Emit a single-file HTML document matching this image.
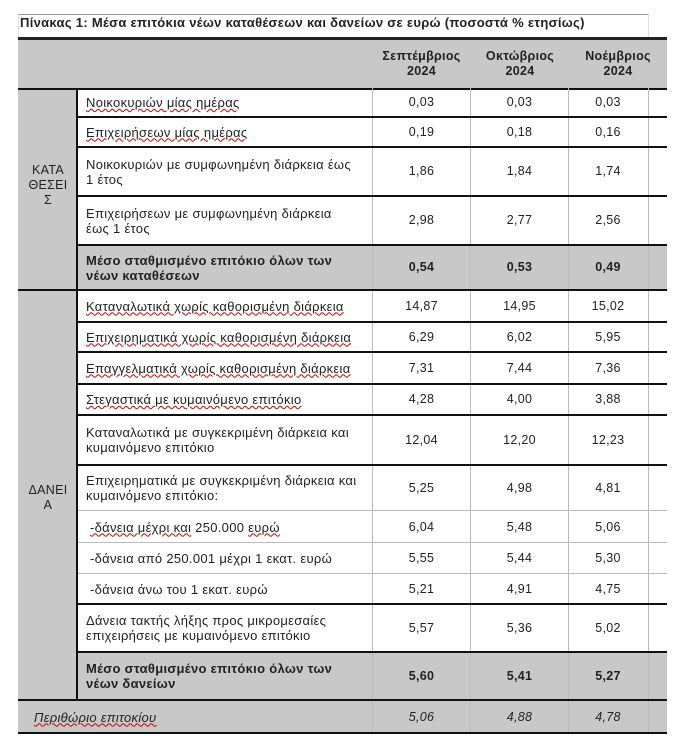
<!DOCTYPE html>
<html><head><meta charset="utf-8"><style>
body{margin:0;width:700px;height:739px;background:#fff;position:relative;overflow:hidden;font-family:"Liberation Sans","DejaVu Sans",sans-serif;font-size:12px;color:#222}
div{position:absolute;box-sizing:border-box}
.t{display:flex;align-items:center;line-height:15px}
.lb{font-size:13px;letter-spacing:0.3px}
.n{justify-content:center;font-size:12.5px;letter-spacing:0.3px}
.u{text-decoration:underline;text-decoration-color:#c00;text-decoration-style:wavy;text-decoration-thickness:1px}
.g{background:#c8c8c8}
.b{font-weight:bold}
.hl{height:2px;background:#111;left:78px;width:589px}
.tl{height:1px;background:#bbb;left:78px;width:589px}
.vl{width:1px;background:#bbb}
</style></head><body>
<div style="left:18px;top:14px;width:631px;height:24px;border-top:1px solid #99a;border-left:1px solid #ddd;border-right:1px solid #ddd"></div>
<div class="b" style="left:20px;top:15px;font-size:13px;letter-spacing:0.3px">Πίνακας 1: Μέσα επιτόκια νέων καταθέσεων και δανείων σε ευρώ (ποσοστά % ετησίως)</div>
<div class="g" style="left:18px;top:37px;width:649px;height:51px;border-top:3px solid #222"></div>
<div class="t n b" style="left:372px;top:40px;width:99px;height:48px;text-align:center">Σεπτέμβριος<br>2024</div>
<div class="t n b" style="left:471px;top:40px;width:98px;height:48px;text-align:center">Οκτώβριος<br>2024</div>
<div class="t n b" style="left:569px;top:40px;width:98px;height:48px;text-align:center">Νοέμβριος<br>2024</div>
<div class="g" style="left:18px;top:88px;width:60px;height:612px"></div>
<div style="left:76px;top:88px;width:2px;height:612px;background:#111"></div>
<div style="left:18px;top:88px;width:649px;height:2px;background:#111"></div>
<div style="left:18px;top:289px;width:60px;height:2px;background:#111"></div>
<div class="t n lb" style="left:18px;top:160px;width:60px;height:50px;text-align:center">ΚΑΤΑ<br>ΘΕΣΕΙ<br>Σ</div>
<div class="t n lb" style="left:18px;top:480px;width:60px;height:36px;text-align:center">ΔΑΝΕΙ<br>Α</div>
<div class="g" style="left:78px;top:245px;width:589px;height:45px"></div>
<div class="g" style="left:78px;top:652px;width:589px;height:48px"></div>
<div class="g" style="left:18px;top:700px;width:649px;height:33px"></div>
<div class="vl" style="left:372px;top:88px;height:645px"></div>
<div class="vl" style="left:470px;top:88px;height:645px"></div>
<div class="vl" style="left:568px;top:88px;height:645px"></div>
<div class="vl" style="left:648px;top:88px;height:645px"></div>
<div class="hl" style="top:116px"></div>
<div class="hl" style="top:146px"></div>
<div class="hl" style="top:195px"></div>
<div class="hl" style="top:244px"></div>
<div class="hl" style="top:289px;left:78px"></div>
<div class="hl" style="top:321px"></div>
<div class="hl" style="top:351px"></div>
<div class="hl" style="top:383px"></div>
<div class="hl" style="top:414px"></div>
<div class="hl" style="top:464px"></div>
<div class="tl" style="top:510px"></div>
<div class="tl" style="top:542px"></div>
<div class="tl" style="top:573px"></div>
<div class="hl" style="top:603px"></div>
<div class="hl" style="top:651px"></div>
<div class="hl" style="top:699px;left:18px;width:649px"></div>
<div class="hl" style="top:732px;left:18px;width:649px"></div>
<div class="t u lb" style="left:86px;top:88px;height:29px">Νοικοκυριών μίας ημέρας</div>
<div class="t u lb" style="left:86px;top:117px;height:30px">Επιχειρήσεων μίας ημέρας</div>
<div class="t lb" style="left:86px;top:147px;height:49px;width:272px">Νοικοκυριών με συμφωνημένη διάρκεια έως 1 έτος</div>
<div class="t lb" style="left:86px;top:196px;height:49px;width:262px">Επιχειρήσεων με συμφωνημένη διάρκεια έως 1 έτος</div>
<div class="t b lb" style="left:86px;top:245px;height:45px;width:270px">Μέσο σταθμισμένο επιτόκιο όλων των νέων καταθέσεων</div>
<div class="t u lb" style="left:86px;top:290px;height:32px">Καταναλωτικά χωρίς καθορισμένη διάρκεια</div>
<div class="t u lb" style="left:86px;top:322px;height:30px">Επιχειρηματικά χωρίς καθορισμένη διάρκεια</div>
<div class="t u lb" style="left:86px;top:352px;height:32px">Επαγγελματικά χωρίς καθορισμένη διάρκεια</div>
<div class="t u lb" style="left:86px;top:384px;height:31px">Στεγαστικά με κυμαινόμενο επιτόκιο</div>
<div class="t lb" style="left:86px;top:415px;height:50px;width:284px">Καταναλωτικά με συγκεκριμένη διάρκεια και κυμαινόμενο επιτόκιο</div>
<div class="t lb" style="left:86px;top:465px;height:46px;width:284px">Επιχειρηματικά με συγκεκριμένη διάρκεια και κυμαινόμενο επιτόκιο:</div>
<div class="t lb" style="left:90px;top:511px;height:32px"><span class="u">-δάνεια μέχρι και</span>&nbsp;250.000&nbsp;<span class="u">ευρώ</span></div>
<div class="t lb" style="left:90px;top:543px;height:31px">-δάνεια από 250.001 μέχρι 1 εκατ. ευρώ</div>
<div class="t lb" style="left:90px;top:574px;height:30px">-δάνεια άνω του 1 εκατ. ευρώ</div>
<div class="t lb" style="left:86px;top:604px;height:48px;width:270px">Δάνεια τακτής λήξης προς μικρομεσαίες επιχειρήσεις με κυμαινόμενο επιτόκιο</div>
<div class="t b lb" style="left:86px;top:652px;height:48px;width:270px">Μέσο σταθμισμένο επιτόκιο όλων των νέων δανείων</div>
<div class="t u lb" style="left:34px;top:701px;height:32px;font-style:italic">Περιθώριο επιτοκίου</div>
<div class="t n" style="left:372px;top:88px;width:99px;height:29px">0,03</div><div class="t n" style="left:470px;top:88px;width:99px;height:29px">0,03</div><div class="t n" style="left:568px;top:88px;width:80px;height:29px">0,03</div>
<div class="t n" style="left:372px;top:117px;width:99px;height:30px">0,19</div><div class="t n" style="left:470px;top:117px;width:99px;height:30px">0,18</div><div class="t n" style="left:568px;top:117px;width:80px;height:30px">0,16</div>
<div class="t n" style="left:372px;top:147px;width:99px;height:49px">1,86</div><div class="t n" style="left:470px;top:147px;width:99px;height:49px">1,84</div><div class="t n" style="left:568px;top:147px;width:80px;height:49px">1,74</div>
<div class="t n" style="left:372px;top:196px;width:99px;height:49px">2,98</div><div class="t n" style="left:470px;top:196px;width:99px;height:49px">2,77</div><div class="t n" style="left:568px;top:196px;width:80px;height:49px">2,56</div>
<div class="t n b" style="left:372px;top:245px;width:99px;height:45px">0,54</div><div class="t n b" style="left:470px;top:245px;width:99px;height:45px">0,53</div><div class="t n b" style="left:568px;top:245px;width:80px;height:45px">0,49</div>
<div class="t n" style="left:372px;top:290px;width:99px;height:32px">14,87</div><div class="t n" style="left:470px;top:290px;width:99px;height:32px">14,95</div><div class="t n" style="left:568px;top:290px;width:80px;height:32px">15,02</div>
<div class="t n" style="left:372px;top:322px;width:99px;height:30px">6,29</div><div class="t n" style="left:470px;top:322px;width:99px;height:30px">6,02</div><div class="t n" style="left:568px;top:322px;width:80px;height:30px">5,95</div>
<div class="t n" style="left:372px;top:352px;width:99px;height:32px">7,31</div><div class="t n" style="left:470px;top:352px;width:99px;height:32px">7,44</div><div class="t n" style="left:568px;top:352px;width:80px;height:32px">7,36</div>
<div class="t n" style="left:372px;top:384px;width:99px;height:31px">4,28</div><div class="t n" style="left:470px;top:384px;width:99px;height:31px">4,00</div><div class="t n" style="left:568px;top:384px;width:80px;height:31px">3,88</div>
<div class="t n" style="left:372px;top:415px;width:99px;height:50px">12,04</div><div class="t n" style="left:470px;top:415px;width:99px;height:50px">12,20</div><div class="t n" style="left:568px;top:415px;width:80px;height:50px">12,23</div>
<div class="t n" style="left:372px;top:465px;width:99px;height:46px">5,25</div><div class="t n" style="left:470px;top:465px;width:99px;height:46px">4,98</div><div class="t n" style="left:568px;top:465px;width:80px;height:46px">4,81</div>
<div class="t n" style="left:372px;top:511px;width:99px;height:32px">6,04</div><div class="t n" style="left:470px;top:511px;width:99px;height:32px">5,48</div><div class="t n" style="left:568px;top:511px;width:80px;height:32px">5,06</div>
<div class="t n" style="left:372px;top:543px;width:99px;height:31px">5,55</div><div class="t n" style="left:470px;top:543px;width:99px;height:31px">5,44</div><div class="t n" style="left:568px;top:543px;width:80px;height:31px">5,30</div>
<div class="t n" style="left:372px;top:574px;width:99px;height:30px">5,21</div><div class="t n" style="left:470px;top:574px;width:99px;height:30px">4,91</div><div class="t n" style="left:568px;top:574px;width:80px;height:30px">4,75</div>
<div class="t n" style="left:372px;top:604px;width:99px;height:48px">5,57</div><div class="t n" style="left:470px;top:604px;width:99px;height:48px">5,36</div><div class="t n" style="left:568px;top:604px;width:80px;height:48px">5,02</div>
<div class="t n b" style="left:372px;top:652px;width:99px;height:48px">5,60</div><div class="t n b" style="left:470px;top:652px;width:99px;height:48px">5,41</div><div class="t n b" style="left:568px;top:652px;width:80px;height:48px">5,27</div>
<div class="t n" style="left:372px;top:701px;width:99px;height:32px;font-style:italic">5,06</div><div class="t n" style="left:470px;top:701px;width:99px;height:32px;font-style:italic">4,88</div><div class="t n" style="left:568px;top:701px;width:80px;height:32px;font-style:italic">4,78</div>
</body></html>
